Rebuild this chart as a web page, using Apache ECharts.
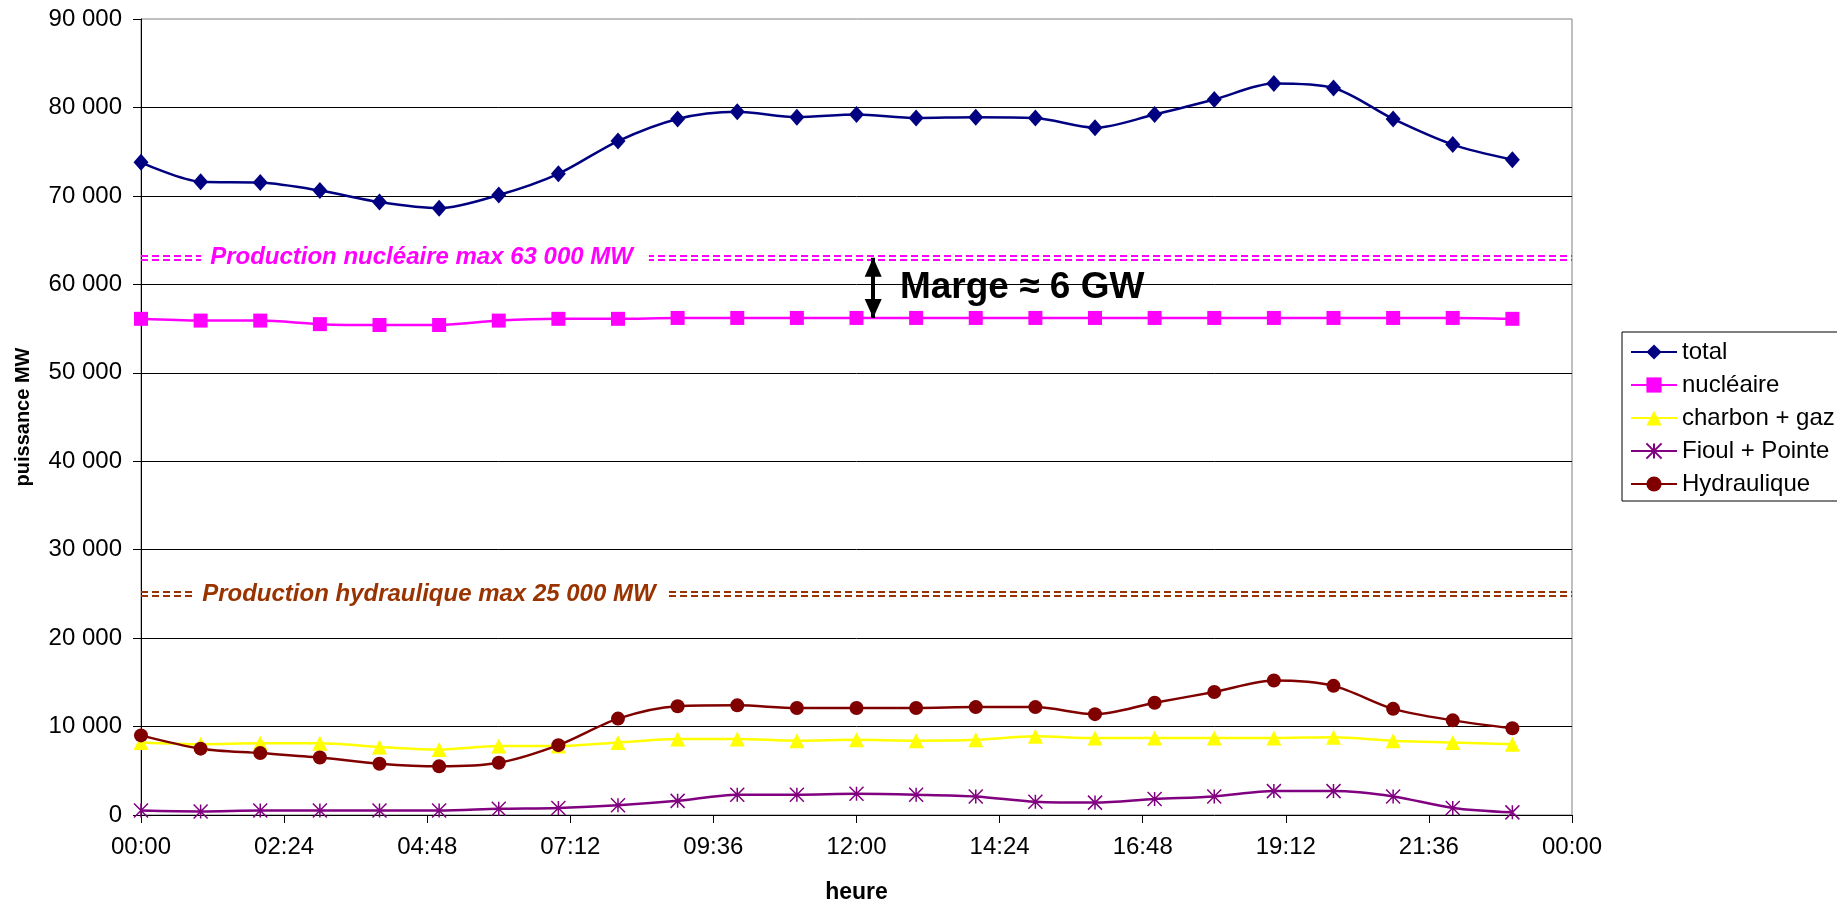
<!DOCTYPE html>
<html lang="fr">
<head>
<meta charset="utf-8">
<title>Production électrique par filière</title>
<script src="https://cdn.jsdelivr.net/npm/echarts@6/dist/echarts.min.js"></script>
<style>
  html, body { margin: 0; padding: 0; background: #fff; }
  #chart { width: 1837px; height: 903px; }
</style>
</head>
<body>
<div id="chart"></div>
<script>
// Hourly readings, one per hour of the day
const heures = ['00:00', '01:00', '02:00', '03:00', '04:00', '05:00', '06:00', '07:00',
                '08:00', '09:00', '10:00', '11:00', '12:00', '13:00', '14:00', '15:00',
                '16:00', '17:00', '18:00', '19:00', '20:00', '21:00', '22:00', '23:00'];

const total = [73800, 71600, 71500, 70600, 69300, 68600, 70100, 72500,
               76200, 78700, 79500, 78900, 79200, 78800, 78900, 78800,
               77700, 79200, 80900, 82700, 82200, 78700, 75800, 74100];

const nucleaire = [56100, 55900, 55900, 55500, 55400, 55400, 55900, 56100,
                   56100, 56200, 56200, 56200, 56200, 56200, 56200, 56200,
                   56200, 56200, 56200, 56200, 56200, 56200, 56200, 56100];

const charbonGaz = [8200, 8000, 8100, 8100, 7700, 7400, 7800, 7800,
                    8200, 8600, 8600, 8400, 8500, 8400, 8500, 8900,
                    8700, 8700, 8700, 8700, 8800, 8400, 8200, 8000];

const fioulPointe = [500, 400, 500, 500, 500, 500, 700, 800,
                     1100, 1600, 2300, 2300, 2400, 2300, 2100, 1500,
                     1400, 1800, 2100, 2700, 2700, 2100, 800, 300];

const hydraulique = [9000, 7500, 7000, 6500, 5800, 5500, 5900, 7900,
                     10900, 12300, 12400, 12100, 12100, 12100, 12200, 12200,
                     11400, 12700, 13900, 15200, 14600, 12000, 10700, 9800];

// Capacity limits drawn as double dashed lines
const nucleaireMax = 63000;
const hydrauliqueMax = 25000;
const nucleaireMaxLabel = 'Production nucléaire max 63 000 MW';
const hydrauliqueMaxLabel = 'Production hydraulique max 25 000 MW';
const margeLabel = 'Marge ≈ 6 GW';

// Axis ranges (hours of the day / MW)
const xMin = 0, xMax = 24, xStep = 2.4;
const yMin = 0, yMax = 90000, yStep = 10000;

const FONT = '"Liberation Sans", Arial, sans-serif';

function toHours(t) {
  const [h, m] = t.split(':').map(Number);
  return h + m / 60;
}
function fmtTime(v) {
  const mins = Math.round(v * 60) % 1440;
  const h = Math.floor(mins / 60), m = mins % 60;
  return String(h).padStart(2, '0') + ':' + String(m).padStart(2, '0');
}
function fmtMW(v) {
  return String(Math.round(v)).replace(/\B(?=(\d{3})+(?!\d))/g, ' ');
}
function pairs(values) {
  return heures.map((t, i) => [toHours(t), values[i]]);
}

const STAR = 'path://M5,0L5,10M0,0L10,10M0,10L10,0';
const HEAD_DOWN = 'path://M0,0L10,0L5,10Z';
const DOUBLE_GAP = 250;          // half distance between the two dashes of a limit line
const DASH = [7, 4];

// Position of the margin arrow (hour of the day)
const margeHour = 12.28;
const margeTextHour = 12.72;

function limitLines(value, color) {
  return {
    silent: true,
    symbol: ['none', 'none'],
    label: { show: false },
    emphasis: { disabled: true },
    lineStyle: { color: color, width: 1.8, type: DASH, opacity: 1 },
    data: [{ yAxis: value + DOUBLE_GAP }, { yAxis: value - DOUBLE_GAP }]
  };
}
function limitLabel(hour, value, text, color, pad) {
  return {
    z: 10,
    silent: true,
    data: [{
      coord: [hour, value],
      symbol: 'rect',
      symbolSize: 1,
      itemStyle: { color: 'rgba(0,0,0,0)' },
      label: {
        show: true,
        position: 'right',
        distance: 0,
        formatter: text,
        color: color,
        fontFamily: FONT,
        fontSize: 24,
        fontWeight: 'bold',
        fontStyle: 'italic',
        backgroundColor: '#fff',
        padding: pad
      }
    }]
  };
}

function lineSeries(name, values, color, symbol, size, extra) {
  return Object.assign({
    name: name,
    type: 'line',
    data: pairs(values),
    smooth: 0.3,
    symbol: symbol,
    symbolSize: size,
    showAllSymbol: true,
    lineStyle: { color: color, width: 2.5 },
    itemStyle: { color: color, borderColor: color, borderWidth: 0 },
    emphasis: { disabled: true },
    z: 3
  }, extra || {});
}

const chart = echarts.init(document.getElementById('chart'), null, { renderer: 'canvas' });

chart.setOption({
  animation: false,
  backgroundColor: '#fff',
  textStyle: { fontFamily: FONT },
  grid: {
    left: 141, right: 265, top: 19, bottom: 88,
    show: true, borderColor: '#808080', borderWidth: 1,
    backgroundColor: '#fff',
    containLabel: false, outerBoundsMode: 'none'
  },
  legend: {
    orient: 'vertical',
    left: 1622, top: 332,
    itemWidth: 46, itemHeight: 19, itemGap: 7,
    padding: [7, 30, 4, 8],
    borderColor: '#000', borderWidth: 1,
    backgroundColor: '#fff',
    selectedMode: false,
    textStyle: { fontFamily: FONT, fontSize: 24, color: '#000', lineHeight: 26 },
    data: ['total', 'nucléaire', 'charbon + gaz', 'Fioul + Pointe', 'Hydraulique']
  },
  xAxis: {
    type: 'value',
    min: xMin, max: xMax, interval: xStep,
    name: 'heure',
    nameLocation: 'middle',
    nameGap: 66,
    nameMoveOverlap: false,
    nameTextStyle: { fontFamily: FONT, fontSize: 23, fontWeight: 'bold', color: '#000' },
    axisLine: { show: true, onZero: false, lineStyle: { color: '#000', width: 1 } },
    axisTick: { show: true, inside: false, length: 8, lineStyle: { color: '#000' } },
    axisLabel: { formatter: fmtTime, fontFamily: FONT, fontSize: 24, color: '#000', margin: 20,
                 showMinLabel: true, showMaxLabel: true, hideOverlap: false },
    splitLine: { show: false }
  },
  yAxis: {
    type: 'value',
    min: yMin, max: yMax, interval: yStep,
    name: 'puissance MW',
    nameLocation: 'middle',
    nameRotate: 90,
    nameGap: 108,
    nameMoveOverlap: false,
    nameTextStyle: { fontFamily: FONT, fontSize: 20, fontWeight: 'bold', color: '#000' },
    axisLine: { show: true, lineStyle: { color: '#000', width: 1 } },
    axisTick: { show: true, inside: false, length: 8, lineStyle: { color: '#000' } },
    axisLabel: { formatter: fmtMW, fontFamily: FONT, fontSize: 24, color: '#000', margin: 19,
                 showMinLabel: true, showMaxLabel: true, hideOverlap: false },
    splitLine: { show: true, showMaxLine: false, showMinLine: false, lineStyle: { color: '#000', width: 1 } }
  },
  series: [
    lineSeries('total', total, '#000080', 'diamond', [15, 17], {
      // shaft of the margin arrow, between the nuclear limit and the nuclear output
      markLine: {
        silent: true,
        z: 6,
        symbol: ['none', 'none'],
        label: { show: false },
        emphasis: { disabled: true },
        lineStyle: { color: '#000', width: 4, type: 'solid', cap: 'butt' },
        data: [[{ coord: [margeHour, nucleaireMax] }, { coord: [margeHour, nucleaire[12]] }]]
      },
      // arrow heads and the margin text
      markPoint: {
        z: 10,
        silent: true,
        data: [
          {
            coord: [margeHour, nucleaireMax],
            symbol: 'triangle', symbolSize: [17, 19], symbolOffset: [0, 9.5],
            itemStyle: { color: '#000' }, label: { show: false }
          },
          {
            coord: [margeHour, nucleaire[12]],
            symbol: HEAD_DOWN, symbolSize: [17, 19], symbolOffset: [0, -9.5],
            itemStyle: { color: '#000' }, label: { show: false }
          },
          {
            coord: [margeTextHour, 60000],
            symbol: 'rect', symbolSize: 1,
            itemStyle: { color: 'rgba(0,0,0,0)' },
            label: {
              show: true, position: 'right', distance: 0, offset: [0, 3],
              formatter: margeLabel,
              color: '#000', fontFamily: FONT, fontSize: 37, fontWeight: 'bold'
            }
          }
        ]
      }
    }),
    lineSeries('nucléaire', nucleaire, '#FF00FF', 'rect', 14, {
      markLine: limitLines(nucleaireMax, '#FF00FF'),
      markPoint: limitLabel(1.0, nucleaireMax, nucleaireMaxLabel, '#FF00FF', [3, 16, 3, 9])
    }),
    lineSeries('charbon + gaz', charbonGaz, '#FFFF00', 'triangle', 15),
    lineSeries('Fioul + Pointe', fioulPointe, '#800080', STAR, 14, {
      itemStyle: { color: '#800080', borderColor: '#800080', borderWidth: 1.5 }
    }),
    lineSeries('Hydraulique', hydraulique, '#800000', 'circle', 14, {
      markLine: limitLines(hydrauliqueMax, '#993300'),
      markPoint: limitLabel(0.9, hydrauliqueMax, hydrauliqueMaxLabel, '#993300', [3, 13, 3, 7])
    })
  ]
});
</script>
</body>
</html>
